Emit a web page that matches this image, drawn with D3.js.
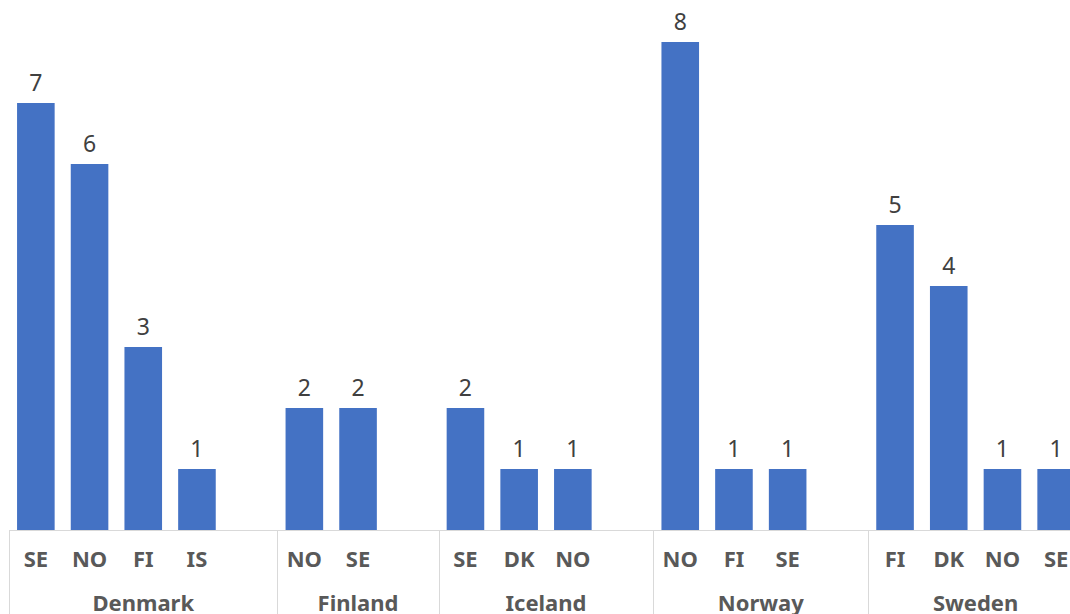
<!DOCTYPE html>
<html>
<head>
<meta charset="utf-8">
<style>
  body { margin: 0; background: #fff; }
  svg { display: block; }
  .tick-lab { font: bold 22px "Noto Sans", sans-serif; fill: #595959; }
  .group-lab { font: bold 22px "Noto Sans", sans-serif; fill: #595959; }
  .val { font: 23px "Noto Sans", sans-serif; fill: #404040; }
</style>
<title>Bars</title>
</head>
<body>
<script src="https://cdn.jsdelivr.net/npm/d3@7"></script>
<script>
// data
var countries = ["Denmark", "Finland", "Iceland", "Norway", "Sweden"];
var partners = [["SE", "NO", "FI", "IS"], ["NO", "SE"], ["SE", "DK", "NO"], ["NO", "FI", "SE"], ["FI", "DK", "NO", "SE"]];
var counts = [[7, 6, 3, 1], [2, 2], [2, 1, 1], [8, 1, 1], [5, 4, 1, 1]];

var W = 1070, H = 614;
var base = 530;

var svg = d3.select("body").append("svg")
  .attr("width", W)
  .attr("height", H);

// flat list of slots, one empty slot after each group but the last
var slots = [];
countries.forEach(function(c, gi) {
  partners[gi].forEach(function(p, i) {
    slots.push({key: c + "|" + p, group: c, label: p, value: counts[gi][i]});
  });
  if (gi < countries.length - 1) slots.push({key: c + "|_", group: c, label: "", value: null});
});

var x = d3.scaleBand()
  .domain(slots.map(d => d.key))
  .range([9, 9 + slots.length * 53.7])
  .paddingInner(0.3)
  .paddingOuter(0.15);

var y = d3.scaleLinear()
  .domain([0, 8])
  .range([base, 42]);

var half = x.step() * x.paddingInner() / 2;

// bars
var bars = slots.filter(d => d.value != null);
svg.append("g").selectAll("rect")
  .data(bars)
  .enter().append("rect")
    .attr("x", d => x(d.key))
    .attr("y", d => y(d.value))
    .attr("width", x.bandwidth())
    .attr("height", d => y(0) - y(d.value))
    .attr("fill", "#4472C4");

// value labels
svg.append("g").selectAll("text")
  .data(bars)
  .enter().append("text")
    .attr("class", "val")
    .attr("x", d => x(d.key) + x.bandwidth() / 2)
    .attr("y", d => y(d.value) - 12)
    .attr("text-anchor", "middle")
    .text(d => d.value);

// category axis
var axis = svg.append("g")
  .attr("transform", "translate(0," + base + ")")
  .call(d3.axisBottom(x).tickSize(0).tickFormat(k => slots.find(s => s.key == k).label));
axis.select(".domain").remove();
axis.selectAll("text")
  .attr("class", "tick-lab")
  .attr("y", 0)
  .attr("dy", null)
  .attr("transform", "translate(0,37)");

svg.append("line")
  .attr("x1", 9).attr("x2", W)
  .attr("y1", base + 0.5).attr("y2", base + 0.5)
  .attr("stroke", "#d9d9d9");

// group dividers and group labels
var bounds = countries.map(function(c) {
  var keys = slots.filter(s => s.group == c).map(s => s.key);
  return {
    name: c,
    x0: x(keys[0]) - half,
    x1: x(keys[keys.length - 1]) + x.bandwidth() + half
  };
});

svg.append("g").selectAll("line")
  .data(bounds)
  .enter().append("line")
    .attr("x1", d => Math.round(d.x0) + 0.5)
    .attr("x2", d => Math.round(d.x0) + 0.5)
    .attr("y1", base)
    .attr("y2", H)
    .attr("stroke", "#d9d9d9");

svg.append("g").selectAll("text")
  .data(bounds)
  .enter().append("text")
    .attr("class", "group-lab")
    .attr("x", d => (d.x0 + d.x1) / 2)
    .attr("y", 611)
    .attr("text-anchor", "middle")
    .text(d => d.name);
</script>
</body>
</html>
